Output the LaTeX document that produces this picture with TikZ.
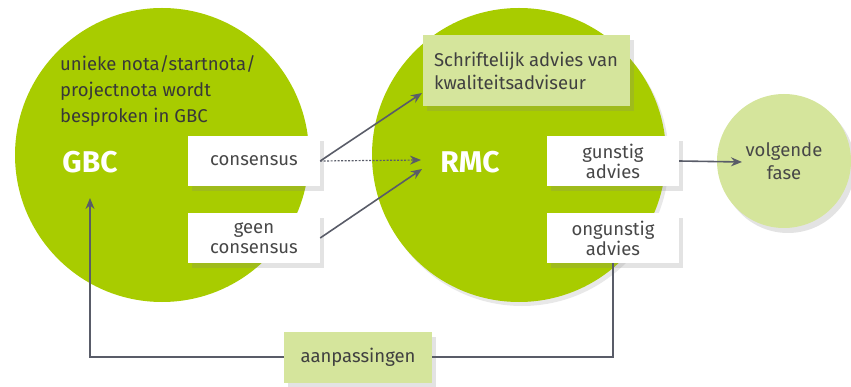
\documentclass[tikz,border=0pt]{standalone}
\usepackage{fontspec}
\setmainfont{Fira Sans}
\usetikzlibrary{shadows, arrows.meta, positioning}
\definecolor{limegreen}{HTML}{A8CC00}
\definecolor{palegreen}{HTML}{D5E59C}
\definecolor{arrowgray}{HTML}{595C68}
\definecolor{boxtext}{HTML}{474747}
\tikzset{
	% grote cirkels
	bigcirc/.style={
		circle,
		fill=limegreen,
		minimum size=294pt,
		inner sep=0pt
	}, %
	% witte vakjes
	whitebox/.style={
		rectangle,
		fill=white,
		text=boxtext,
		minimum width=132pt,
		minimum height=50pt,
		align=center,
		font=\fontsize{18.5}{20}\selectfont,
		drop shadow={shadow xshift=4pt, shadow yshift=-5pt, opacity=0.22}
	}, %
	% lichtgroene vakjes
	greenbox/.style={
		whitebox,
		fill=palegreen,
		text=black!75
	}, %
	% pijlen
	flow/.style={
		-{Stealth[length=11pt, width=9pt]},
		draw=arrowgray,
		line width=1.6pt
	}
}

\begin{document}
\begin{tikzpicture}[x=1pt, y=-1pt]
			\useasboundingbox (0,0) rectangle (851,387);
			%% cirkels
			\node [bigcirc] (gbc) at (162,155) {};
			\node [bigcirc, drop shadow={shadow xshift=3pt, shadow yshift=-4pt, opacity=0.18}] (rmc) at (519,155) {};
			\node [circle, fill=palegreen, minimum size=134pt, inner sep=0pt,
				drop shadow={shadow xshift=4pt, shadow yshift=-5pt, opacity=0.22}] (fase) at (784,161) {};
			\node [text=boxtext, align=center, font=\fontsize{18.5}{23}\selectfont] (fasetext) at (784,161) {volgende\\fase};
			
			%% teksten in de cirkels
			\node [anchor=north west, align=left, text=black!78, inner sep=0pt, font=\fontsize{18.5}{26}\selectfont] (intro) at (60,55)
				{unieke nota/startnota/\\projectnota wordt\\besproken in GBC};
			\node [text=white, font=\fontsize{30}{32}\selectfont\bfseries] (gbclabel) at (90,162) {GBC};
			\node [text=white, font=\fontsize{30}{32}\selectfont\bfseries] (rmclabel) at (470,162) {RMC};
			
			%% vakjes
			\node [whitebox] (cons) at (254,161) {consensus};
			\node [whitebox] (geencons) at (254,238) {geen\\consensus};
			\node [whitebox] (gunstig) at (613,161) {gunstig\\advies};
			\node [whitebox] (ongunstig) at (613,238) {ongunstig\\advies};
			\node [greenbox, minimum width=207pt, minimum height=71pt, align=left, font=\fontsize{18.5}{23}\selectfont] (advies) at (526,71)
				{Schriftelijk advies van\\kwaliteitsadviseur};
			\node [greenbox, minimum width=148pt, minimum height=51pt] (aanp) at (358,357) {aanpassingen};
			
			%% pijlen
			\coordinate (adviesin) at (422,93);
			\coordinate (rmcin) at (421,160);
			\coordinate (rmcin2) at (422,169);
			\coordinate (fasein) at (742,162);
			\coordinate (terug) at (90,198);
			\draw [flow] (cons.east) -- (adviesin);
			\draw [flow, dash pattern=on 2pt off 1.5pt, line width=1.2pt] (cons.east) -- (rmcin);
			\draw [flow] (geencons.east) -- (rmcin2);
			\draw [flow] (gunstig.east) -- (fasein);
			\draw [draw=arrowgray, line width=1.6pt] (ongunstig.south) |- (aanp.east);
			\draw [flow] (aanp.west) -| (terug);
		\end{tikzpicture}
\end{document}
